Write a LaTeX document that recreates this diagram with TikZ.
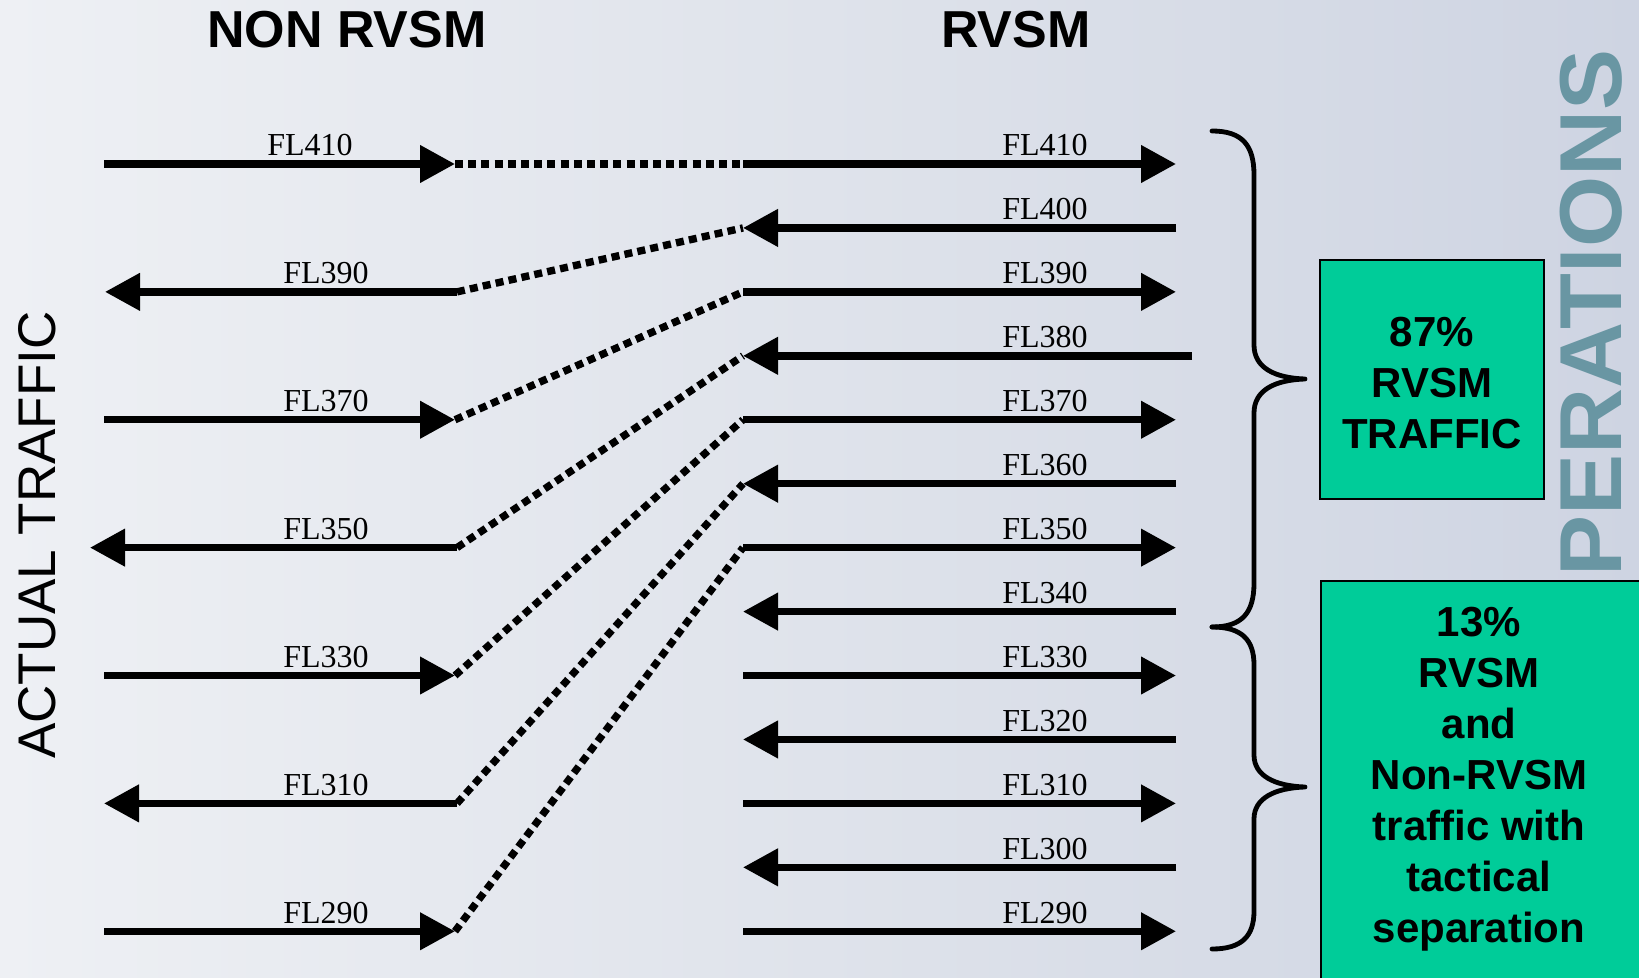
\documentclass[tikz,border=0pt]{standalone}
\usepackage{fontspec}
\setmainfont{Liberation Serif}
\newfontfamily\arial{Liberation Sans}
\usetikzlibrary{arrows.meta}
\definecolor{bgL}{RGB}{238,240,244}
\definecolor{bgM}{RGB}{223,227,235}
\definecolor{bgR}{RGB}{206,212,226}
\definecolor{boxgreen}{RGB}{0,204,153}
\definecolor{wmark}{RGB}{105,150,163}
\begin{document}
\begin{tikzpicture}[x=0.5pt,y=-0.5pt,
  flight/.style={line width=3.7pt,-{Triangle[length=17.5pt,width=18pt]}},
  dotline/.style={line width=3.7pt,dash pattern=on 4pt off 2.6pt},
  lvl/.style={font=\fontsize{16}{19}\selectfont,anchor=base,inner sep=0pt},
  title/.style={font=\arial\bfseries\fontsize{26}{31}\selectfont,inner sep=0pt},
  bracepath/.style={line width=2.4pt,line join=round,line cap=round},
  greenbox/.style={draw=black,line width=0.9pt,fill=boxgreen},
  boxtext/.style={font=\arial\bfseries\fontsize{21}{25.5}\selectfont,align=center,inner sep=0pt}
]
\useasboundingbox (0,0) rectangle (1639,978);
\clip (0,0) rectangle (1639,978);
\fill[left color=bgL,right color=bgR,middle color=bgM] (0,0) rectangle (1639,978);

% watermark
\node[rotate=90,anchor=base west,inner sep=0pt,text=wmark,
  font=\arial\bfseries\fontsize{44}{50}\selectfont] (wm) at (1621,577) {\scalebox{1.04}[1]{PERATIONS}};

% titles
\node[title] (tNon) at (347,30) {NON RVSM};
\node[title] (tR) at (1016,30) {RVSM};
\node[rotate=90,inner sep=0pt,font=\arial\fontsize{26.5}{31}\selectfont] (act) at (37,535) {ACTUAL TRAFFIC};

% right side levels
\foreach \fl [count=\k from 0] in {410,400,...,290}{
  \pgfmathsetmacro\yy{164+63.94*\k}
  \pgfmathsetmacro\xe{\fl==380 ? 1192 : 1176}
  \coordinate (rs\fl) at (743,\yy);
  \coordinate (re\fl) at (\xe,\yy);
  \node[lvl] (rl\fl) at (1045,\yy-8) {FL\fl};
  \ifodd\k \draw[flight] (re\fl) -- (rs\fl); \else \draw[flight] (rs\fl) -- (re\fl); \fi
}

% left side levels
\foreach \fl/\k/\xa/\lx in {410/0/104/310,390/1/105/326,370/2/104/326,350/3/90/326,330/4/104/326,310/5/104/326,290/6/104/326}{
  \pgfmathsetmacro\yy{164+127.88*\k}
  \coordinate (ls\fl) at (\xa,\yy);
  \node[lvl] (ll\fl) at (\lx,\yy-8) {FL\fl};
  \ifodd\k
    \coordinate (le\fl) at (457,\yy);
    \draw[flight] (le\fl) -- (ls\fl);
  \else
    \coordinate (le\fl) at (455,\yy);
    \draw[flight] (ls\fl) -- (le\fl);
  \fi
}

% dotted transitions
\draw[dotline] (le410) -- (rs410);
\draw[dotline] (le390) -- (rs400);
\draw[dotline] (le370) -- (rs390);
\draw[dotline] (le350) -- (rs380);
\draw[dotline] (le330) -- (rs370);
\draw[dotline] (le310) -- (rs360);
\draw[dotline] (le290) -- (rs350);

% boxes
\node[greenbox,minimum width=112pt,minimum height=119.5pt,inner sep=0pt] (b1) at (1432,379.5) {};
\node[boxtext] (b1t) at (1432,383) {87\%\\RVSM\\TRAFFIC};
\node[greenbox,minimum width=175pt,minimum height=220pt,inner sep=0pt,anchor=north west] (b2) at (1320,580) {};
\node[boxtext] (b2t) at (1479,779) {13\%\\RVSM\\and\\Non-RVSM\\traffic with\\tactical\\separation};

% braces
\coordinate (br1top) at (1212,131);
\coordinate (br1tip) at (1305,379);
\coordinate (br1bot) at (1212,627);
\coordinate (br2tip) at (1305,787);
\coordinate (br2bot) at (1212,949);
\draw[bracepath] (br1top) .. controls (1242,131) and (1254,145) .. (1254,175)
  -- (1254,345) .. controls (1254,368) and (1275,378) .. (br1tip)
  .. controls (1275,380) and (1254,390) .. (1254,413)
  -- (1254,583) .. controls (1254,613) and (1242,627) .. (br1bot);
\draw[bracepath] (br1bot) .. controls (1242,627) and (1254,640) .. (1254,665)
  -- (1254,755) .. controls (1254,776) and (1275,786) .. (br2tip)
  .. controls (1275,788) and (1254,798) .. (1254,819)
  -- (1254,911) .. controls (1254,936) and (1242,949) .. (br2bot);
\end{tikzpicture}
\end{document}
